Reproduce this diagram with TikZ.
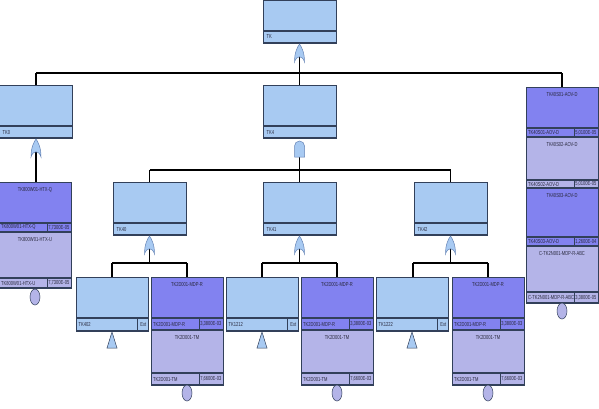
\documentclass[tikz,border=0pt]{standalone}
\usepackage{fontspec}
\newfontfamily\ftnarrow[FakeStretch=0.7]{Liberation Sans}
\usetikzlibrary{calc}

\definecolor{evblue}{RGB}{168,202,242}
\definecolor{evdark}{RGB}{130,130,240}
\definecolor{evlight}{RGB}{180,180,232}
\definecolor{edgecol}{RGB}{50,64,90}
\definecolor{gatecol}{RGB}{100,130,180}
\definecolor{txtcol}{RGB}{40,40,60}

\begin{document}
\begin{tikzpicture}[x=1pt, y=-1pt, font=\ftnarrow\fontsize{5.8}{6}\selectfont,
    box/.style={draw=edgecol, line width=0.5pt},
    barline/.style={draw=edgecol, line width=1.2pt},
    lnk/.style={draw=black, line width=1.4pt},
    txt/.style={inner sep=0.5pt, text=txtcol},
    gatefill/.style={fill=evblue, draw=gatecol, line width=0.5pt},
    orgate/.pic={\filldraw[gatefill] (-5,18) .. controls (-5,8) and (-2,3) .. (0,0) .. controls (2,3) and (5,8) .. (5,18) .. controls (3,11) and (-3,11) .. cycle;},
    andgate/.pic={\filldraw[gatefill] (-5,17) -- (-5,6) arc[start angle=180, end angle=360, radius=5] -- (5,17) -- cycle;}]
  \useasboundingbox (0,0) rectangle (599,408);
  % connection points
  \coordinate (TKout) at (299.5,57);
  \coordinate (L1bus) at (299.5,73);
  \coordinate (L1busW) at (36,73);
  \coordinate (L1busE) at (562,73);
  \coordinate (TK0in) at (36,85);
  \coordinate (TK4in) at (299.5,85);
  \coordinate (RCin) at (562,87);
  \coordinate (TK0out) at (36,152);
  \coordinate (HTXin) at (36,182);
  \coordinate (TK4out) at (299.5,157);
  \coordinate (L2bus) at (299.5,170);
  \coordinate (L2busW) at (149.5,170);
  \coordinate (L2busE) at (450.5,170);
  \draw[lnk] (TKout) -- (L1bus);
  \draw[lnk] (L1busW) -- (L1busE);
  \draw[lnk] (L1busW) -- (TK0in);
  \draw[lnk] (L1bus) -- (TK4in);
  \draw[lnk] (L1busE) -- (RCin);
  \draw[lnk] (TK0out) -- (HTXin);
  \draw[lnk] (TK4out) -- (L2bus);
  \draw[lnk] (L2busW) -- (L2busE);
  \foreach \cx/\nk in {149.5/40, 299.5/41, 450.5/42}{
    \coordinate (TK\nk in) at (\cx,182);
    \coordinate (TK\nk out) at (\cx,249);
    \coordinate (TK\nk bus) at (\cx,263);
    \coordinate (TK\nk busW) at (\cx-37.5,263);
    \coordinate (TK\nk busE) at (\cx+37.5,263);
    \coordinate (TK\nk inW) at (\cx-37.5,277);
    \coordinate (TK\nk inE) at (\cx+37.5,277);
    \draw[lnk] (L2bus -| TK\nk in) -- (TK\nk in);
    \draw[lnk] (TK\nk out) -- (TK\nk bus);
    \draw[lnk] (TK\nk busW) -- (TK\nk busE);
    \draw[lnk] (TK\nk busW) -- (TK\nk inW);
    \draw[lnk] (TK\nk busE) -- (TK\nk inE);
  }
  % intermediate events and gates
  \foreach \xa/\ya/\yb/\nm in {263/0/43/TK, -1/85/138/TK0, 263/85/138/TK4, 113/182/235/TK40, 263/182/235/TK41, 414/182/235/TK42}{
    \filldraw[box, fill=evblue] (\xa,\ya) rectangle (\xa+73,\yb);
    \draw[barline] (\xa,\yb-12) -- (\xa+73,\yb-12) (\xa,\yb) -- (\xa+73,\yb);
    \node[txt, anchor=west] (\nm) at (\xa+3,\yb-6) {\nm};
  }
  \pic at (299.5,44) {orgate};
  \pic at (36,139) {orgate};
  \pic at (299.5,140) {andgate};
  \foreach \cx in {149.5, 299.5, 450.5}
    \pic at (\cx,236) {orgate};
  % transfer events
  \foreach \xa/\nm in {76/TK402, 226/TK1212, 376/TK1222}{
    \filldraw[box, fill=evblue] (\xa,277) rectangle (\xa+72,331);
    \draw[barline] (\xa,318) -- (\xa+72,318) (\xa,331) -- (\xa+72,331);
    \draw[box] (\xa+61,318) -- (\xa+61,331);
    \node[txt, anchor=west] (\nm) at (\xa+2,324.5) {\nm};
    \node[txt, anchor=east] (\nm ext) at (\xa+71,324.5) {Ext};
    \filldraw[box, fill=evblue] (\xa+36,332) -- (\xa+41,348) -- (\xa+31,348) -- cycle;
  }
  % basic events
  \foreach \xa/\ya/\yb/\yc/\col/\ttl/\vl in {
      -1/182/223/232/evdark/TK800W01-HTX-Q/{7,7300E-05},
      -1/232/278/288/evlight/TK800W01-HTX-U/{7,7300E-05},
      526/87/128/137/evdark/TK40S01-AOV-D/{5,0100E-05},
      526/137/180/188/evlight/TK40S02-AOV-D/{5,0100E-05},
      526/188/237/246/evdark/TK40S03-AOV-D/{1,2600E-04},
      526/246/292/303/evlight/C-TK2N001-MDP-R-ABC/{3,3800E-05},
      151/277/318/330/evdark/TK2D001-MDP-R/{3,3800E-03},
      151/330/373/385/evlight/TK2D001-TM/{7,6600E-03},
      301/277/318/330/evdark/TK2D001-MDP-R/{3,3800E-03},
      301/330/373/385/evlight/TK2D001-TM/{7,6600E-03},
      452/277/318/330/evdark/TK2D001-MDP-R/{3,3800E-03},
      452/330/373/385/evlight/TK2D001-TM/{7,6600E-03}}{
    \filldraw[box, fill=\col] (\xa,\ya) rectangle (\xa+72,\yc);
    \draw[barline] (\xa,\yb) -- (\xa+72,\yb) (\xa,\yc) -- (\xa+72,\yc);
    \draw[box] (\xa+48,\yb) -- (\xa+48,\yc);
    \node[txt, anchor=north] (ev\xa-\ya) at (\xa+36,\ya+5) {\ttl};
    \node[txt, anchor=west] (ev\xa-\ya n) at (\xa+1.5,{(\yb+\yc)/2}) {\ttl};
    \node[txt, anchor=east] (ev\xa-\ya v) at (\xa+71,{(\yb+\yc)/2}) {\vl};
  }
  \foreach \cx/\cy in {35/297, 562/311, 187/393, 337/393, 488/393}
    \filldraw[box, fill=evlight] (\cx,\cy) ellipse [x radius=5, y radius=8];
\end{tikzpicture}
\end{document}
